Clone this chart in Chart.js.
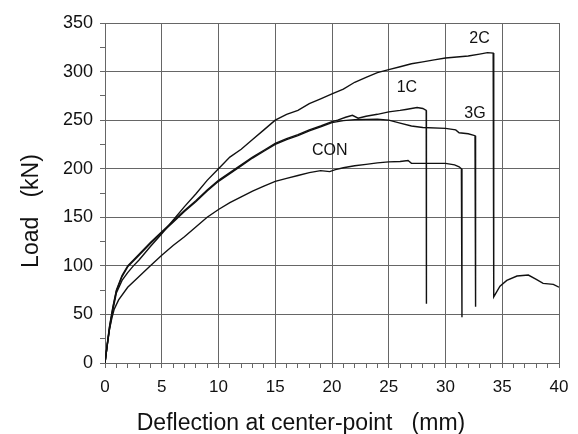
<!DOCTYPE html>
<html>
<head>
<meta charset="utf-8">
<script src="https://cdn.jsdelivr.net/npm/chart.js@4/dist/chart.umd.min.js"></script>
<style>
    html, body { margin: 0; padding: 0; background: #ffffff; }
    #wrap { width: 578px; height: 434px; }
</style>
</head>
<body>
<div id="wrap"><canvas id="loadChart" width="578" height="434"></canvas></div>
<script>
/*==================================================
DATA
==================================================*/

const conX = [0, 0.2, 0.4, 0.6, 0.8, 1.2, 2, 3, 4, 5, 6, 7, 8, 9, 10, 11, 12, 13, 14, 15, 16, 17, 18, 19, 19.8, 20.3, 21, 22, 23, 24, 25, 26, 26.7, 27, 28, 30, 30.8, 31.2, 31.4, 31.45];
const conY = [0, 18, 35, 46, 55, 65, 78, 89, 100, 111, 121, 130, 140, 150, 158, 165, 171, 177, 182, 187, 190, 193, 196, 198, 197, 199, 201, 203, 204.5, 206, 207, 207.5, 208.5, 205.5, 205.5, 205.5, 204, 202, 200, 47];

const c1X = [0, 0.2, 0.4, 0.7, 1.0, 1.5, 2, 3, 4, 5, 6, 7, 8, 9, 10, 11, 12, 13, 14, 15, 16, 17, 18, 19, 20, 20.5, 21.2, 21.8, 22.3, 23, 24, 25, 26, 26.5, 27.5, 28, 28.3, 28.32];
const c1Y = [0, 20, 38, 58, 75, 90, 100, 112, 124, 135, 146, 157, 167, 178, 188, 196, 204, 212, 219, 226, 231, 235, 240, 244, 248.5, 250, 253, 255, 252, 254, 256, 258.5, 260, 261, 263, 262, 260, 61];

const c2X = [0, 0.2, 0.4, 0.7, 1.0, 1.5, 2, 2.5, 3, 4, 5, 6, 7, 8, 9, 10, 11, 12, 13, 14, 15, 16, 17, 18, 19, 20, 21, 22, 23, 24, 25, 26, 27, 28, 29, 30, 31, 32, 33, 33.7, 34.2, 34.25, 34.8, 35.4, 36.3, 37.3, 38.0, 38.6, 39.5, 40];
const c2Y = [0, 19, 35, 55, 72, 85, 93, 100, 106, 120, 133, 147, 161, 174, 188, 200, 212, 220, 230, 240, 250, 256, 260, 267, 272, 277, 282, 289, 294, 299, 302, 305, 308, 310, 312, 314, 315, 316, 318, 319.5, 319, 68, 79, 85, 89.5, 90.5, 86, 82, 81, 78];

const g3X = [0, 0.2, 0.4, 0.7, 1.0, 1.5, 2, 3, 4, 5, 6, 7, 8, 9, 10, 11, 12, 13, 14, 15, 16, 17, 18, 19, 20, 21, 22, 24, 25, 26, 27, 28, 30, 30.9, 31.2, 32, 32.6, 32.65];
const g3Y = [0, 19, 37, 57, 74, 89, 99, 111, 123, 134, 145, 156, 166, 177, 187, 195, 203, 211, 218, 225, 230, 234, 239, 243, 247.5, 249.5, 250.5, 251, 250, 247, 244, 242.5, 241.5, 240, 237, 236, 234, 58];

const seriesNames = ["CON", "1C", "2C", "3G"];

// where each curve name is written, in data units
const labelNames = ["2C", "1C", "3G", "CON"];
const labelAtX = [33.0, 26.6, 32.6, 19.8];
const labelAtY = [334, 283, 257, 219];

const xTitle = "Deflection at center-point   (mm)";
const yTitle = "Load   (kN)";

/*==================================================
HELPERS
==================================================*/

function toPoints(xs, ys) {

    return xs.map((x, i) => ({ x: x, y: ys[i] }));

}

const FONT = "'Liberation Sans', Arial, sans-serif";
const INK = "#111111";
const GRID = "#666666";

/*==================================================
CURVE LABELS + AXIS TITLES
==================================================*/

const textPlugin = {

    id: "textPlugin",

    afterDraw(chart) {

        const ctx = chart.ctx;
        const xs = chart.scales.x;
        const ys = chart.scales.y;

        ctx.save();

        ctx.fillStyle = INK;
        ctx.font = "16px " + FONT;
        ctx.textAlign = "center";
        ctx.textBaseline = "middle";

        labelNames.forEach((name, i) => {

            ctx.fillText(name, xs.getPixelForValue(labelAtX[i]), ys.getPixelForValue(labelAtY[i]));

        });

        ctx.font = "23px " + FONT;
        ctx.textBaseline = "alphabetic";
        ctx.fillText(xTitle, 301, 430);

        ctx.translate(38, 211);
        ctx.rotate(-Math.PI / 2);
        ctx.fillText(yTitle, 0, 0);

        ctx.restore();

    }

};

/*==================================================
CHART
==================================================*/

const datasets = [conX, c1X, c2X, g3X].map((xs, i) => {

    const ys = [conY, c1Y, c2Y, g3Y][i];

    return {

        label: seriesNames[i],

        data: toPoints(xs, ys),

        showLine: true,

        borderColor: INK,

        borderWidth: 1.4,

        pointRadius: 0,

        tension: 0

    };

});

new Chart(document.getElementById("loadChart"), {

    type: "scatter",

    data: { datasets: datasets },

    options: {

        responsive: false,

        animation: false,

        layout: {

            padding: { left: 0, top: 23, right: 19, bottom: 0 }

        },

        plugins: {

            legend: { display: false },

            tooltip: { enabled: false }

        },

        scales: {

            x: {

                type: "linear",

                min: 0,

                max: 40,

                afterFit: scale => { scale.height = 71; },

                border: { color: GRID, width: 1 },

                grid: {

                    color: c => (c.tick && c.tick.value % 5 === 0) ? GRID : "rgba(0,0,0,0)",

                    tickColor: GRID,

                    tickLength: 5

                },

                ticks: {

                    stepSize: 1,

                    autoSkip: false,

                    maxRotation: 0,

                    padding: 9,

                    color: INK,

                    font: { family: FONT, size: 17 },

                    callback: v => (v % 5 === 0 ? v : "")

                }

            },

            y: {

                type: "linear",

                min: 0,

                max: 350,

                afterFit: scale => { scale.width = 105; },

                border: { color: GRID, width: 1 },

                grid: {

                    color: c => (c.tick && c.tick.value % 50 === 0) ? GRID : "rgba(0,0,0,0)",

                    tickColor: GRID,

                    tickLength: 5

                },

                ticks: {

                    stepSize: 25,

                    autoSkip: false,

                    padding: 7,

                    color: INK,

                    font: { family: FONT, size: 18 },

                    callback: v => (v % 50 === 0 ? v : "")

                }

            }

        }

    },

    plugins: [textPlugin]

});
</script>
</body>
</html>
